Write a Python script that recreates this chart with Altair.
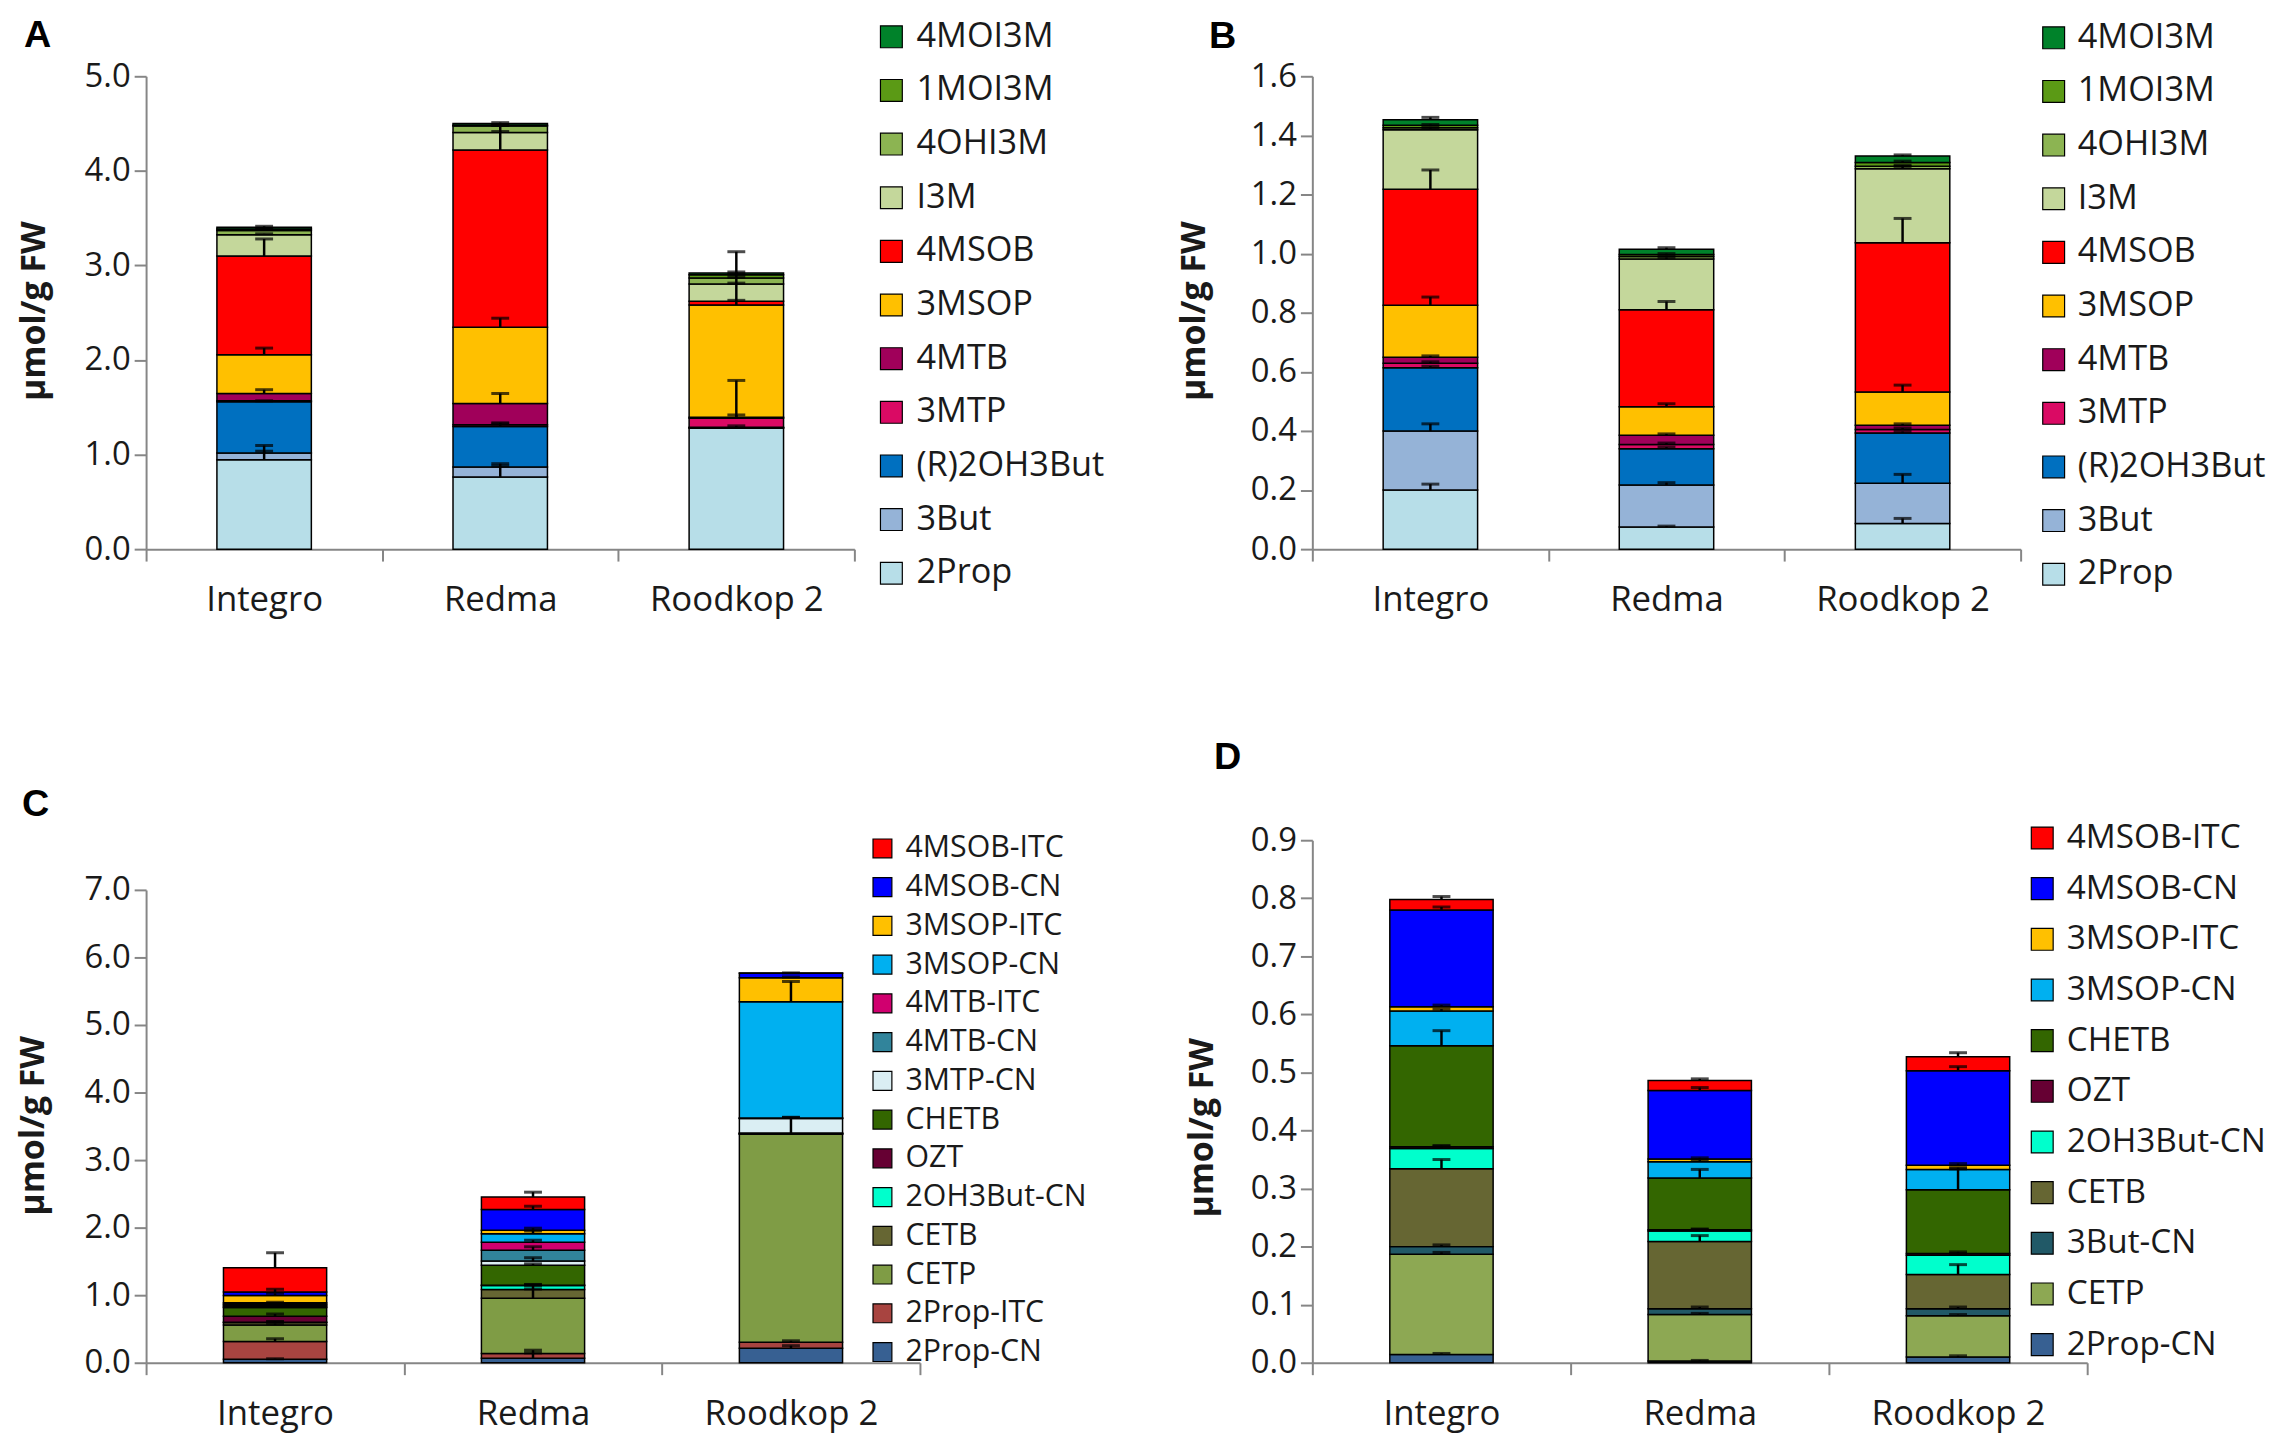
import altair as alt
import pandas as pd

cultivars = ["Integro", "Redma", "Roodkop 2"]

# ---------- Panels A & B (glucosinolates), stack order bottom -> top ----------
gsl_compounds = ["2Prop", "3But", "(R)2OH3But", "3MTP", "4MTB", "3MSOP",
                 "4MSOB", "I3M", "4OHI3M", "1MOI3M", "4MOI3M"]
gsl_colors = ["#B7DEE8", "#95B3D7", "#0070C0", "#DA0A64", "#A0005A", "#FFC000",
              "#FF0000", "#C4D79B", "#8CB452", "#5B9A15", "#00822A"]

a_integro = [0.946, 0.070, 0.543, 0.010, 0.077, 0.410, 1.044, 0.224, 0.045, 0.015, 0.020]
a_redma   = [0.764, 0.105, 0.427, 0.020, 0.225, 0.806, 1.874, 0.185, 0.067, 0.010, 0.017]
a_roodkop = [1.279, 0.005, 0.005, 0.095, 0.010, 1.187, 0.040, 0.182, 0.063, 0.035, 0.020]
a_err_integro = [0.150, 0.020, 0.010, 0.000, 0.040, 0.070, 0.180, 0.010, 0.010, 0.005, 0.010]
a_err_redma   = [0.140, 0.010, 0.040, 0.010, 0.105, 0.095, 0.260, 0.010, 0.010, 0.005, 0.010]
a_err_roodkop = [0.025, 0.000, 0.000, 0.035, 0.390, 0.050, 0.524, 0.010, 0.010, 0.005, 0.010]

b_integro = [0.200, 0.200, 0.214, 0.015, 0.020, 0.176, 0.393, 0.201, 0.007, 0.008, 0.019]
b_redma   = [0.075, 0.142, 0.123, 0.014, 0.031, 0.097, 0.328, 0.172, 0.008, 0.007, 0.018]
b_roodkop = [0.087, 0.136, 0.170, 0.012, 0.014, 0.113, 0.505, 0.250, 0.009, 0.012, 0.022]
b_err_integro = [0.020, 0.024, 0.005, 0.005, 0.005, 0.028, 0.065, 0.005, 0.003, 0.003, 0.008]
b_err_redma   = [0.003, 0.008, 0.005, 0.005, 0.005, 0.010, 0.028, 0.005, 0.003, 0.003, 0.005]
b_err_roodkop = [0.017, 0.030, 0.005, 0.005, 0.005, 0.023, 0.082, 0.008, 0.003, 0.005, 0.004]

# ---------- Panel C (breakdown products), bottom -> top ----------
c_compounds = ["2Prop-CN", "2Prop-ITC", "CETP", "CETB", "2OH3But-CN", "OZT", "CHETB",
               "3MTP-CN", "4MTB-CN", "4MTB-ITC", "3MSOP-CN", "3MSOP-ITC",
               "4MSOB-CN", "4MSOB-ITC"]
c_colors = ["#376092", "#A84440", "#7F9C45", "#666633", "#00FFCC", "#660033", "#336600",
            "#DAEEF3", "#31849B", "#D0006F", "#00B0F0", "#FFC000",
            "#0000FF", "#FF0000"]
c_integro = [0.050, 0.265, 0.245, 0.035, 0.005, 0.090, 0.127, 0.010, 0.020, 0.020, 0.020, 0.110, 0.050, 0.360]
c_redma   = [0.066, 0.070, 0.820, 0.127, 0.061, 0.005, 0.295, 0.061, 0.162, 0.117, 0.127, 0.051, 0.305, 0.188]
c_roodkop = [0.213, 0.092, 3.076, 0.005, 0.005, 0.005, 0.005, 0.213, 0.005, 0.005, 1.720, 0.356, 0.066, 0.005]
c_err_integro = [0.010, 0.040, 0.020, 0.010, 0.010, 0.030, 0.030, 0.010, 0.010, 0.010, 0.010, 0.030, 0.040, 0.220]
c_err_redma   = [0.120, 0.010, 0.190, 0.010, 0.010, 0.010, 0.020, 0.050, 0.050, 0.030, 0.040, 0.030, 0.050, 0.070]
c_err_roodkop = [0.040, 0.020, 0.250, 0.000, 0.000, 0.000, 0.000, 0.020, 0.000, 0.000, 0.300, 0.010, 0.005, 0.000]

# ---------- Panel D (breakdown products), bottom -> top ----------
d_compounds = ["2Prop-CN", "CETP", "3But-CN", "CETB", "2OH3But-CN", "OZT", "CHETB",
               "3MSOP-CN", "3MSOP-ITC", "4MSOB-CN", "4MSOB-ITC"]
d_colors = ["#376092", "#8DA853", "#215967", "#666633", "#00FFCC", "#660033", "#336600",
            "#00B0F0", "#FFC000", "#0000FF", "#FF0000"]
d_integro = [0.014, 0.173, 0.013, 0.134, 0.035, 0.003, 0.174, 0.060, 0.007, 0.167, 0.018]
d_redma   = [0.003, 0.080, 0.010, 0.116, 0.018, 0.002, 0.089, 0.028, 0.005, 0.118, 0.017]
d_roodkop = [0.010, 0.071, 0.012, 0.059, 0.033, 0.003, 0.110, 0.035, 0.007, 0.163, 0.024]
d_err_integro = [0.002, 0.003, 0.003, 0.016, 0.004, 0.002, 0.026, 0.003, 0.003, 0.005, 0.005]
d_err_redma   = [0.001, 0.002, 0.003, 0.010, 0.003, 0.001, 0.015, 0.003, 0.002, 0.005, 0.003]
d_err_roodkop = [0.002, 0.002, 0.003, 0.017, 0.003, 0.003, 0.036, 0.003, 0.003, 0.007, 0.007]

Y_TITLE = "µmol/g FW"
FONT = "Open Sans"
AXIS_GREY = "#868686"
TEXT = "#1a1a1a"


def build_df(compounds, values, errors):
    rows = []
    for cv, vals, errs in zip(cultivars, values, errors):
        cum = 0.0
        for i, (comp, v, e) in enumerate(zip(compounds, vals, errs)):
            rows.append(dict(cultivar=cv, compound=comp, idx=i, value=v,
                             bottom=cum, top=cum + v, err=e, err_top=cum + v + e))
            cum += v
    return pd.DataFrame(rows)


def panel(df, compounds, colors, letter, ymax, yvals, width, height, top_gap,
          leg, title_dx, title_dy, ytitle_x, ytitle_y):
    x_axis = alt.Axis(tickBand="extent", labelAngle=0, labelFont=FONT, labelFontSize=35,
                      labelColor=TEXT, labelPadding=22, tickSize=12, tickWidth=2,
                      tickColor=AXIS_GREY, domainColor=AXIS_GREY, domainWidth=2,
                      title=None)
    x_enc = alt.X("cultivar:N", sort=cultivars, title=None,
                  scale=alt.Scale(paddingInner=0, paddingOuter=0), axis=x_axis)
    y_axis = alt.Axis(values=yvals, format=".1f", title=Y_TITLE, grid=False,
                      labelFont=FONT, labelFontSize=33, labelColor=TEXT, labelPadding=4,
                      tickSize=12, tickWidth=2, tickColor=AXIS_GREY,
                      domainColor=AXIS_GREY, domainWidth=2,
                      titleFont=FONT, titleFontSize=34, titleFontWeight="bold",
                      titleColor=TEXT, titleX=ytitle_x, titleY=ytitle_y,
                      titleBaseline="middle", titleAlign="center", titleAngle=-90)
    y_scale = alt.Scale(domain=[0, ymax], nice=False, zero=True, range=[height, top_gap])

    base = alt.Chart(df)
    bars = base.mark_bar(width=alt.RelativeBandSize(0.40), stroke="black",
                         strokeWidth=1.5).encode(
        x=x_enc,
        y=alt.Y("bottom:Q", scale=y_scale, axis=y_axis, title=Y_TITLE),
        y2="top:Q",
        color=alt.Color("compound:N",
                        scale=alt.Scale(domain=compounds[::-1], range=colors[::-1]),
                        legend=alt.Legend(title=None, orient="none", direction="vertical",
                                          legendX=leg["x"], legendY=leg["y"],
                                          symbolType="square", symbolSize=leg["sym"],
                                          symbolStrokeColor="black", symbolStrokeWidth=1.2,
                                          labelFont=FONT, labelFontSize=leg["fs"],
                                          labelColor=TEXT, rowPadding=leg["row"],
                                          labelOffset=leg["off"], padding=0, labelLimit=500)),
        order=alt.Order("idx:Q"),
    )
    errdf = base.transform_filter("datum.err > 0")
    rules = errdf.mark_rule(color="black", strokeWidth=2.5).encode(
        x=x_enc,
        y=alt.Y("top:Q", scale=y_scale, axis=y_axis, title=Y_TITLE),
        y2="err_top:Q",
    )
    caps = errdf.mark_tick(color="black", thickness=3, size=18).encode(
        x=x_enc,
        y=alt.Y("err_top:Q", scale=y_scale, axis=y_axis, title=Y_TITLE),
    )
    return alt.layer(bars, rules, caps).properties(
        width=width, height=height,
        title=alt.TitleParams(letter, anchor="start", frame="group", dx=title_dx, dy=title_dy,
                              offset=0, baseline="alphabetic", font="Liberation Sans",
                              fontSize=38, fontWeight="bold", color="black"),
    )


df_a = build_df(gsl_compounds, [a_integro, a_redma, a_roodkop], [a_err_integro, a_err_redma, a_err_roodkop])
df_b = build_df(gsl_compounds, [b_integro, b_redma, b_roodkop], [b_err_integro, b_err_redma, b_err_roodkop])
df_c = build_df(c_compounds, [c_integro, c_redma, c_roodkop], [c_err_integro, c_err_redma, c_err_roodkop])
df_d = build_df(d_compounds, [d_integro, d_redma, d_roodkop], [d_err_integro, d_err_redma, d_err_roodkop])

chart_a = panel(df_a, gsl_compounds, gsl_colors, "A", 5.0, [0, 1, 2, 3, 4, 5], 713, 476, 0,
                dict(x=733, y=-57, sym=484, fs=34.5, row=19, off=8), -123, 66, -112, 236)
chart_b = panel(df_b, gsl_compounds, gsl_colors, "B", 1.6,
                [0, 0.2, 0.4, 0.6, 0.8, 1.0, 1.2, 1.4, 1.6], 713, 476, 0,
                dict(x=729, y=-56, sym=484, fs=34.5, row=19, off=7), -104, 66, -119, 236)
chart_c = panel(df_c, c_compounds, c_colors, "C", 7.0, [0, 1, 2, 3, 4, 5, 6, 7], 779, 526, 50,
                dict(x=726, y=-7, sym=361, fs=30.5, row=8, off=8), -125, 21, -113, 287)
chart_d = panel(df_d, d_compounds, d_colors, "D", 0.9,
                [0, 0.1, 0.2, 0.3, 0.4, 0.5, 0.6, 0.7, 0.8, 0.9], 780, 526, 0,
                dict(x=718, y=-19, sym=484, fs=33.5, row=16, off=8), -99, -15, -110, 289)

chart = alt.concat(chart_a, chart_b, chart_c, chart_d, columns=2,
                   spacing={"row": 293, "column": 395}, bounds="flush") \
    .resolve_scale(color="independent", x="independent", y="independent") \
    .resolve_legend(color="independent") \
    .properties(padding={"left": 9, "top": 5, "right": 0, "bottom": 0},
                background="white") \
    .configure_view(stroke=None)

chart.save("out.html", embed_options={"renderer": "svg", "actions": False})
